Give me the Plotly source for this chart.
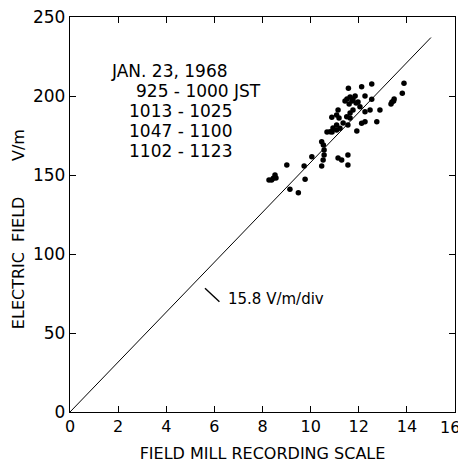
import plotly.graph_objects as go

# data
scale_x = [13.88, 13.81, 13.45, 13.38, 13.47, 13.34, 12.54, 12.12, 11.57,
           11.64, 11.76, 11.85, 11.97, 11.51, 11.72, 11.60, 11.89, 11.43,
           12.26, 12.54, 12.05, 12.47, 12.26, 12.88, 11.76, 11.64, 11.50,
           11.14, 11.08, 11.18, 10.88, 11.64, 11.35, 11.55, 12.26, 12.12,
           12.75, 11.08, 10.93, 10.81, 11.08, 11.22, 10.68, 10.89, 11.92,
           10.46, 10.53, 10.56, 10.56, 10.52, 10.46, 10.05, 9.73, 11.14,
           11.29, 11.55, 11.55, 9.01, 8.52, 8.45, 8.38, 8.27, 8.56, 9.77,
           9.14, 9.49]
field_vm = [208.0, 201.7, 196.8, 196.2, 198.1, 194.9, 207.6, 205.9, 204.9,
            199.4, 198.1, 200.0, 196.2, 198.1, 196.8, 194.9, 195.6, 196.8,
            200.0, 197.9, 193.2, 191.1, 190.1, 191.1, 191.1, 189.2, 186.9,
            191.1, 188.0, 186.1, 186.5, 186.1, 182.9, 181.6, 183.7, 182.7,
            183.7, 181.6, 179.7, 177.4, 178.5, 179.6, 177.2, 177.2, 177.8,
            171.1, 169.0, 165.8, 162.7, 159.5, 155.7, 161.6, 155.7, 160.8,
            159.5, 162.7, 156.3, 156.3, 150.0, 147.9, 146.8, 146.8, 148.1,
            147.3, 141.0, 138.8]

slope = 15.8
line_x = [0, 15]
line_y = [v * slope for v in line_x]

x_ticks = [0, 2, 4, 6, 8, 10, 12, 14, 16]
x_tick_labels = ["0", "2", "4", "6", "8", "10", "12", "14", "16"]
y_ticks = [0, 50, 100, 150, 200, 250]

legend_lines = ["JAN. 23, 1968", "925 - 1000 JST", "1013 - 1025",
                "1047 - 1100", "1102 - 1123"]

FONT = "DejaVu Sans"
NB = "\u00a0"

fig = go.Figure()
fig.add_trace(go.Scatter(x=line_x, y=line_y, mode="lines",
                         line=dict(color="black", width=1), showlegend=False))
fig.add_trace(go.Scatter(x=scale_x, y=field_vm, mode="markers",
                         marker=dict(color="black", size=5.5), showlegend=False))

axis_common = dict(showgrid=False, zeroline=False, showline=True,
                   linecolor="black", linewidth=1.4, mirror="ticks",
                   ticks="inside", ticklen=6, tickcolor="black", tickwidth=1.2,
                   ticklabeloverflow="allow", automargin=False)

# the last label sits at the right edge; it is drawn as an annotation so it
# stays inside the page
fig.update_xaxes(range=[0, 16], tickvals=x_ticks,
                 ticktext=x_tick_labels[:-1] + [""],
                 **axis_common,
                 tickfont=dict(family=FONT, size=16, color="black"),
                 title=dict(text="FIELD MILL RECORDING SCALE",
                            font=dict(family=FONT, size=16, color="black"),
                            standoff=12))
fig.update_yaxes(range=[0, 250], tickvals=y_ticks, **axis_common,
                 tickfont=dict(family=FONT, size=17, color="black"))

fig.add_annotation(xref="x", yref="paper", x=x_ticks[-1], y=0,
                   text=x_tick_labels[-1], showarrow=False,
                   xanchor="right", yanchor="top", xshift=7, yshift=-4,
                   font=dict(family=FONT, size=16, color="black"))

fig.add_annotation(xref="paper", yref="paper", x=-0.135, y=0.463,
                   text="ELECTRIC" + NB * 2 + "FIELD" + NB * 7 + "V/m",
                   textangle=-90,
                   showarrow=False, xanchor="center", yanchor="middle",
                   font=dict(family=FONT, size=16, color="black"))

# legend-like text block
fig.add_annotation(xref="x", yref="y", x=1.6, y=216, text=legend_lines[0],
                   showarrow=False, xanchor="left", yanchor="middle",
                   font=dict(family=FONT, size=17, color="black"))
offsets = [2.65, 2.35, 2.35, 2.35]
ys = [203.4, 190.2, 177.6, 165.0]
for t, ox, yy in zip(legend_lines[1:], offsets, ys):
    fig.add_annotation(xref="x", yref="y", x=ox, y=yy, text=t,
                       showarrow=False, xanchor="left", yanchor="middle",
                       font=dict(family=FONT, size=17, color="black"))

fig.add_shape(type="line", xref="x", yref="y", x0=5.61, y0=78.3,
              x1=6.21, y1=69.8, line=dict(color="black", width=1.4))
fig.add_annotation(xref="x", yref="y", x=6.5, y=71.5, text="15.8 V/m/div",
                   showarrow=False, xanchor="left", yanchor="middle",
                   font=dict(family=FONT, size=15, color="black"))

fig.update_layout(width=458, height=458, plot_bgcolor="white",
                  paper_bgcolor="white",
                  margin=dict(l=62, r=11, t=9, b=54))

fig.write_html("out.html")
